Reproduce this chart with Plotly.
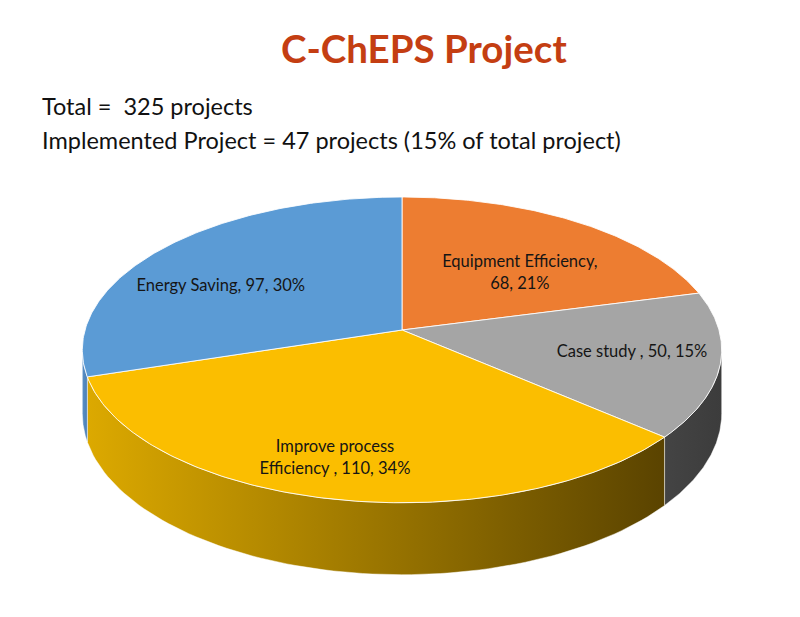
import numpy as np
import plotly.graph_objects as go

# ---------------- data ----------------
categories = ["Equipment Efficiency", "Case study ", "Improve process Efficiency ", "Energy Saving"]
label_lines = [["Equipment Efficiency,", "{v}, {p}%"],
               ["Case study , {v}, {p}%"],
               ["Improve process", "Efficiency , {v}, {p}%"],
               ["Energy Saving, {v}, {p}%"]]
values = [68, 50, 110, 97]
total_projects = 325
implemented_projects = 47
implemented_pct = 15

# ---------------- styles ----------------
top_colors = ["#ED7D31", "#A5A5A5", "#FBBE00", "#5B9BD5"]
side_scales = [
    [[0, "#B8601F"], [1, "#8A4515"]],
    [[0, "#444444"], [1, "#3C3C3C"]],
    [[0, "#DCA900"], [1, "#5A4300"]],
    [[0, "#5A8FC6"], [1, "#4A7FB5"]],
]
# label placement on the disc: (radius fraction, angular shift in degrees)
label_place = [(0.553, 7.3), (0.727, -1.1), (0.795, 2.2), (0.664, -9.7)]
FONT = "Lato"

# page offset of the plot div (default body margin)
OFF = 8

# projection of the tilted disc (pixel-unit axes)
CX, CY = 402.0, 330.0
RX, RY = 317.0, 150.3
K = 0.13
DEPTH = 62.6


def proj(r, th):
    u = r * np.sin(th)
    v = r * np.cos(th)
    d = 1 + K * v
    return CX + RX * u / d, CY - RY * v / d, d


vals = np.array(values, dtype=float)
fr = vals / vals.sum()
ends = np.cumsum(fr) * 2 * np.pi
starts = ends - fr * 2 * np.pi

fig = go.Figure()

# visible side range (silhouette where tangent is vertical)
thR = np.arccos(-K)
thL = 2 * np.pi - np.arccos(-K)

for i in range(len(values)):
    s = max(starts[i], thR)
    e = min(ends[i], thL)
    if e <= s:
        continue
    th = np.linspace(s, e, 80)
    xt, yt, d = proj(1.0, th)
    yb = yt + DEPTH / d
    xs = np.concatenate([xt, xt[::-1], xt[:1]])
    ys = np.concatenate([yt, yb[::-1], yt[:1]])
    fig.add_trace(go.Scatter(
        x=xs, y=ys, mode="lines", fill="toself",
        fillgradient=dict(type="horizontal", colorscale=side_scales[i]),
        line=dict(color="rgba(255,255,255,0.6)", width=0.8),
        hoverinfo="skip", showlegend=False))

for i in range(len(values)):
    th = np.linspace(starts[i], ends[i], 160)
    xt, yt, _ = proj(1.0, th)
    xs = np.concatenate([[CX], xt, [CX]])
    ys = np.concatenate([[CY], yt, [CY]])
    fig.add_trace(go.Scatter(
        x=xs, y=ys, mode="lines", fill="toself", fillcolor=top_colors[i],
        line=dict(color="rgba(255,255,255,0.85)", width=1),
        hoverinfo="skip", showlegend=False, name=categories[i]))

# slice labels
lx, ly, lt = [], [], []
for i in range(len(values)):
    mid = (starts[i] + ends[i]) / 2 + np.radians(label_place[i][1])
    x, y, _ = proj(label_place[i][0], mid)
    pct = int(round(100 * fr[i]))
    lx.append(x)
    ly.append(y)
    lt.append("<br>".join(l.format(v=values[i], p=pct) for l in label_lines[i]))
fig.add_trace(go.Scatter(
    x=lx, y=ly, mode="text", text=lt, textposition="middle center",
    textfont=dict(family=FONT, size=16.5, color="#151515"),
    hoverinfo="skip", showlegend=False))

fig.add_annotation(x=424, y=48, xref="x", yref="y", text="<b>C-ChEPS Project</b>",
                   showarrow=False, font=dict(family=FONT, size=38.5, color="#C43E12"),
                   xanchor="center", yanchor="middle")
fig.add_annotation(x=40, y=106, xref="x", yref="y",
                   text=f"Total = \u00a0{total_projects} projects",
                   showarrow=False, font=dict(family=FONT, size=23.5, color="#111111"),
                   xanchor="left", yanchor="middle")
fig.add_annotation(x=40, y=140, xref="x", yref="y",
                   text=f"Implemented Project = {implemented_projects} projects ({implemented_pct}% of total project)",
                   showarrow=False, font=dict(family=FONT, size=23.5, color="#111111"),
                   xanchor="left", yanchor="middle")

fig.update_layout(
    width=800, height=617,
    margin=dict(l=0, r=0, t=0, b=0),
    paper_bgcolor="white", plot_bgcolor="white",
    xaxis=dict(range=[OFF, 800 + OFF], visible=False, fixedrange=True),
    yaxis=dict(range=[617 + OFF, OFF], visible=False, fixedrange=True),
    showlegend=False,
)

fig.write_html("out.html")
